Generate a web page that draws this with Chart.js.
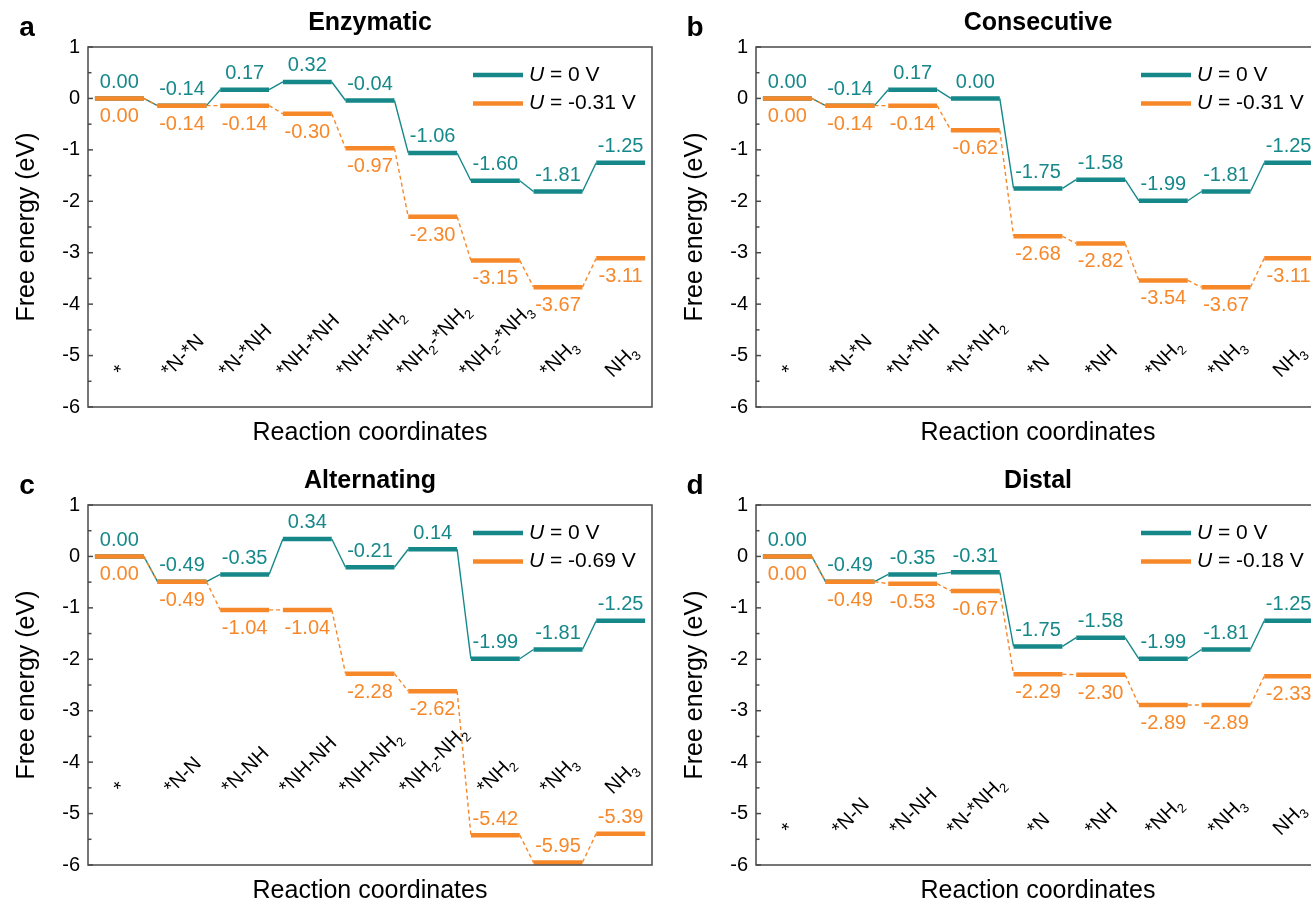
<!DOCTYPE html>
<html><head><meta charset="utf-8">
<script src="https://cdn.jsdelivr.net/npm/chart.js@4.4.1/dist/chart.umd.min.js"></script>
<style>
html,body{margin:0;padding:0;background:#fff;overflow:hidden;width:1311px;height:903px;position:relative;}
canvas{position:absolute;}
</style></head><body>
<canvas id="ca" width="660" height="450" style="left:0;top:0"></canvas>
<canvas id="cb" width="660" height="450" style="left:668px;top:0"></canvas>
<canvas id="cc" width="660" height="450" style="left:0;top:458px"></canvas>
<canvas id="cd" width="660" height="450" style="left:668px;top:458px"></canvas>
<script>
// ---------- data ----------
const catsA = ['*','*N-*N','*N-*NH','*NH-*NH','*NH-*NH₂','*NH₂-*NH₂','*NH₂-*NH₃','*NH₃','NH₃'];
const u0A   = [0.00,-0.14,0.17,0.32,-0.04,-1.06,-1.60,-1.81,-1.25];
const uLA   = [0.00,-0.14,-0.14,-0.30,-0.97,-2.30,-3.15,-3.67,-3.11];
const potA  = ['0','-0.31'];

const catsB = ['*','*N-*N','*N-*NH','*N-*NH₂','*N','*NH','*NH₂','*NH₃','NH₃'];
const u0B   = [0.00,-0.14,0.17,0.00,-1.75,-1.58,-1.99,-1.81,-1.25];
const uLB   = [0.00,-0.14,-0.14,-0.62,-2.68,-2.82,-3.54,-3.67,-3.11];
const potB  = ['0','-0.31'];

const catsC = ['*','*N-N','*N-NH','*NH-NH','*NH-NH₂','*NH₂-NH₂','*NH₂','*NH₃','NH₃'];
const u0C   = [0.00,-0.49,-0.35,0.34,-0.21,0.14,-1.99,-1.81,-1.25];
const uLC   = [0.00,-0.49,-1.04,-1.04,-2.28,-2.62,-5.42,-5.95,-5.39];
const potC  = ['0','-0.69'];

const catsD = ['*','*N-N','*N-NH','*N-*NH₂','*N','*NH','*NH₂','*NH₃','NH₃'];
const u0D   = [0.00,-0.49,-0.35,-0.31,-1.75,-1.58,-1.99,-1.81,-1.25];
const uLD   = [0.00,-0.49,-0.53,-0.67,-2.29,-2.30,-2.89,-2.89,-2.33];
const potD  = ['0','-0.18'];

const yTickValues = [1,0,-1,-2,-3,-4,-5,-6];

// ---------- style ----------
const TEAL = '#16888a', ORANGE = '#f7882a';
const FF = '"Liberation Sans", Arial, Helvetica, sans-serif';
Chart.defaults.font.family = FF;
Chart.defaults.color = '#000';

const SUBMAP = {'₂':'2','₃':'3'};
const CAT_SIZE = 20, SUB_SIZE = 13;
function richParts(s){
  const parts=[]; let cur='', curSub=false;
  for (const ch of s){
    const isSub = ch in SUBMAP; const c = isSub ? SUBMAP[ch] : ch;
    if (isSub !== curSub && cur){ parts.push({t:cur,sub:curSub}); cur=''; }
    curSub = isSub; cur += c;
  }
  if (cur) parts.push({t:cur,sub:curSub});
  return parts;
}
function richWidth(ctx,s){
  let w=0;
  for (const p of richParts(s)){ ctx.font=(p.sub?SUB_SIZE:CAT_SIZE)+'px '+FF; w+=ctx.measureText(p.t).width; }
  return w;
}
function drawRich(ctx,s){
  let x=0;
  for (const p of richParts(s)){ ctx.font=(p.sub?SUB_SIZE:CAT_SIZE)+'px '+FF; ctx.fillText(p.t,x,p.sub?5:0); x+=ctx.measureText(p.t).width; }
}

function levelPoints(vals){
  return vals.flatMap((v,i)=>[{x:i+0.11,y:v},{x:i+0.89,y:v}]);
}

const energyPlugin = {
  id:'energyPanel',
  afterDatasetsDraw(chart,args,o){
    const ctx=chart.ctx, ca=chart.chartArea, ys=chart.scales.y, xs=chart.scales.x;
    ctx.save();
    // frame
    ctx.strokeStyle='#4a4a4a'; ctx.lineWidth=1.5; ctx.setLineDash([]);
    ctx.strokeRect(ca.left, ca.top, ca.right-ca.left, ca.bottom-ca.top);
    // inward ticks
    for (let k=0;k<=14;k++){
      const v=-6+k*0.5, y=ys.getPixelForValue(v), len=(k%2===0)?5:3.5;
      ctx.beginPath(); ctx.moveTo(ca.left,y); ctx.lineTo(ca.left+len,y); ctx.stroke();
    }
    // value labels
    ctx.font='20px '+FF; ctx.textAlign='center'; ctx.textBaseline='alphabetic';
    o.u0.forEach((v,i)=>{
      const x=xs.getPixelForValue(i+0.5), y=ys.getPixelForValue(v);
      ctx.fillStyle=TEAL; ctx.fillText(v.toFixed(2),x,y-10.5);
    });
    o.uL.forEach((v,i)=>{
      const x=xs.getPixelForValue(i+0.5), y=ys.getPixelForValue(v);
      ctx.fillStyle=ORANGE; ctx.fillText(v.toFixed(2),x,(v<-5)?y-10.5:y+24);
    });
    // category labels
    ctx.fillStyle='#000';
    o.cats.forEach((s,i)=>{
      const cx=xs.getPixelForValue(i+0.5), y0=ys.getPixelForValue(o.catY);
      const w=richWidth(ctx,s); const ax=cx-(w-14)*0.3536;
      ctx.save(); ctx.translate(ax,y0); ctx.rotate(-Math.PI/4);
      ctx.textAlign='left'; ctx.textBaseline='alphabetic'; drawRich(ctx,s); ctx.restore();
    });
    // legend
    const lx0=ca.left+385, lx1=ca.left+435, tx=ca.left+441;
    [[TEAL,o.pot[0],ca.top+28],[ORANGE,o.pot[1],ca.top+56.5]].forEach(([c,p,y])=>{
      ctx.strokeStyle=c; ctx.lineWidth=4.5; ctx.lineCap='butt';
      ctx.beginPath(); ctx.moveTo(lx0,y); ctx.lineTo(lx1,y); ctx.stroke();
      ctx.fillStyle='#000'; ctx.textAlign='left'; ctx.textBaseline='middle';
      ctx.font='italic 21px '+FF; ctx.fillText('U',tx,y);
      const wU=ctx.measureText('U').width;
      ctx.font='21px '+FF; ctx.fillText(' = '+p+' V',tx+wU,y);
    });
    // title + panel letter
    ctx.fillStyle='#000'; ctx.textBaseline='alphabetic'; ctx.textAlign='center';
    ctx.font='bold 25px '+FF; ctx.fillText(o.title,(ca.left+ca.right)/2,30);
    ctx.font='bold 28px '+FF; ctx.fillText(o.letter,27,36);
    ctx.restore();
  }
};

function makePanel(id,letter,title,cats,u0,uL,pot,catY){
  new Chart(document.getElementById(id),{
    type:'line',
    data:{datasets:[
      {label:'U = '+pot[0]+' V', data:levelPoints(u0), borderColor:TEAL, order:1,
       pointRadius:0, borderWidth:4.5, tension:0, clip:false,
       segment:{borderWidth:c=>c.p0DataIndex%2===0?4.5:1.4}},
      {label:'U = '+pot[1]+' V', data:levelPoints(uL), borderColor:ORANGE, order:0,
       pointRadius:0, borderWidth:4.5, tension:0, clip:false,
       segment:{borderWidth:c=>c.p0DataIndex%2===0?4.5:1.4,
                borderDash:c=>c.p0DataIndex%2===0?[]:[4,3]}}
    ]},
    options:{
      responsive:false, animation:false, devicePixelRatio:1,
      layout:{padding:{top:47,right:8,left:0,bottom:0}},
      plugins:{legend:{display:false}, tooltip:{enabled:false},
        energyPanel:{letter,title,cats,u0,uL,pot,catY}},
      scales:{
        x:{type:'linear',min:0,max:9,
           ticks:{display:false}, grid:{display:false,drawTicks:false}, border:{display:false},
           title:{display:true,text:'Reaction coordinates',font:{size:25},color:'#000',padding:{top:0,bottom:2}},
           afterFit:s=>{s.height=43;}},
        y:{type:'linear',min:-6,max:1,
           afterBuildTicks:s=>{s.ticks=yTickValues.map(v=>({value:v}));},
           ticks:{font:{size:20},color:'#000',padding:8,callback:v=>String(v)},
           grid:{display:false,drawTicks:false}, border:{display:false},
           title:{display:true,text:'Free energy (eV)',font:{size:25},color:'#000',padding:{top:12,bottom:0}},
           afterFit:s=>{s.width=88;}}
      }
    },
    plugins:[energyPlugin]
  });
}
makePanel('ca','a','Enzymatic',catsA,u0A,uLA,potA,-5.44);
makePanel('cb','b','Consecutive',catsB,u0B,uLB,potB,-5.44);
makePanel('cc','c','Alternating',catsC,u0C,uLC,potC,-4.64);
makePanel('cd','d','Distal',catsD,u0D,uLD,potD,-5.44);
</script>
</body></html>
